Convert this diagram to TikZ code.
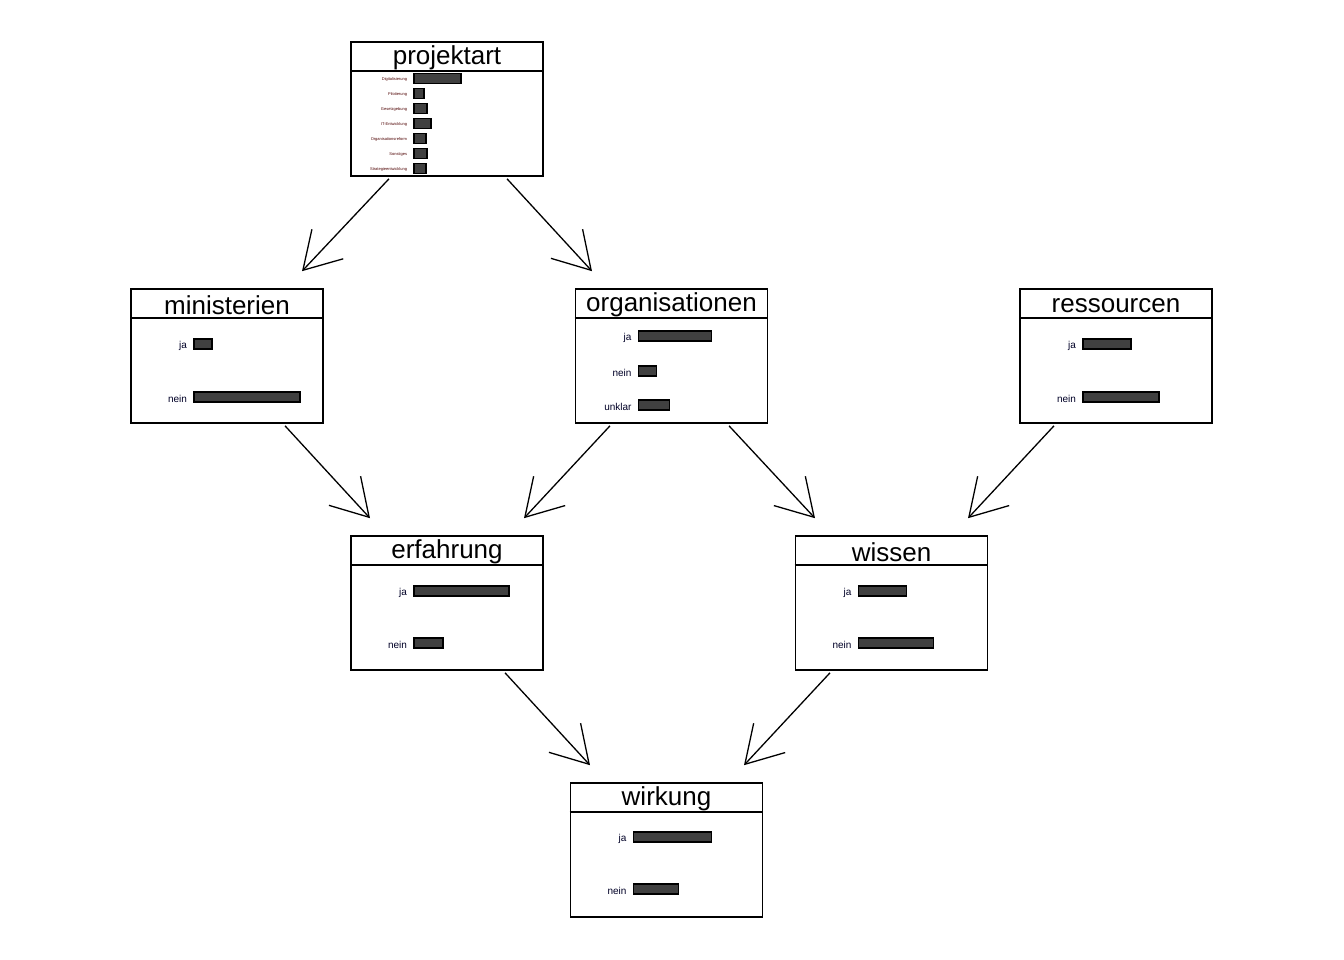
\documentclass[tikz,border=0pt]{standalone}
\usepackage{fontspec}
\setmainfont{Liberation Sans}
\usetikzlibrary{arrows.meta}

\tikzset{
  kasten/.style={draw, line width=1.6pt, minimum width=192pt, minimum height=134pt, inner sep=0pt},
  titel/.style={font=\fontsize{26}{28}\selectfont, inner sep=0pt},
  balken/.style={draw, line width=1.5pt, fill=black!75, minimum height=10pt, inner sep=0pt, anchor=west},
  kat/.style={font=\fontsize{10}{12}\selectfont, text=black!85!blue, inner sep=0pt, anchor=east},
  pfeil/.style={line width=1.3pt, -{Straight Barb[length=36pt,width=43pt]}}
}

\begin{document}
\begin{tikzpicture}[x=1pt,y=-1pt]
  \useasboundingbox (0,0) rectangle (1344,960);
  % Kaesten der Variablen
  \node[kasten] (projektart) at (447,109) {};
  \node[kasten] (ministerien) at (227,356) {};
  \node[kasten] (organisationen) at (671.5,356) {};
  \node[kasten] (ressourcen) at (1116,356) {};
  \node[kasten] (erfahrung) at (447,603) {};
  \node[kasten] (wissen) at (891.5,603) {};
  \node[kasten] (wirkung) at (666.5,850) {};
  % Kopfzeilen mit Titel
  \foreach \k in {projektart,ministerien,organisationen,ressourcen,erfahrung,wissen,wirkung}{
    \draw[line width=1.6pt] ([yshift=-30pt]\k.north west) -- ([yshift=-30pt]\k.north east);
    \node[titel] (\k-titel) at ([yshift=-17pt]\k.north) {\k};
  }
  % Balken der Projektarten
  \foreach \lab/\w [count=\i] in {Digitalisierung/47, Pilotierung/10, Gesetzgebung/13,
      IT-Entwicklung/17, Organisationsreform/12, Sonstiges/13, Strategieentwicklung/12}{
    \node[balken, minimum width=\w pt] (projektart-\i) at ([xshift=63pt,yshift={-(22.5+15*\i)*1pt}]projektart.north west) {};
    \node[kat, font=\fontsize{4}{5}\selectfont, text=black!70!red] at ([xshift=-6pt,yshift=-1pt]projektart-\i.west) {\lab};
  }
  % Balken der uebrigen Variablen
  \foreach \k/\lab/\dy/\w in {ministerien/ja/56/18, ministerien/nein/109/106,
      organisationen/ja/48/73, organisationen/nein/83/18, organisationen/unklar/117/31,
      ressourcen/ja/56/48, ressourcen/nein/109/76,
      erfahrung/ja/56/95, erfahrung/nein/108/29,
      wissen/ja/56/48, wissen/nein/108/75,
      wirkung/ja/55/78, wirkung/nein/107/45}{
    \node[balken, minimum width=\w pt] (\k-\lab) at ([xshift=63pt,yshift=-\dy pt]\k.north west) {};
    \node[kat] at ([xshift=-6pt,yshift=-2pt]\k-\lab.west) {\lab};
  }
  % Pfeile
  \draw[pfeil] ([xshift=-58pt,yshift=-2pt]projektart.south) -- ([xshift=75pt,yshift=17pt]ministerien.north);
  \draw[pfeil] ([xshift=60pt,yshift=-2pt]projektart.south) -- ([xshift=-79.5pt,yshift=17pt]organisationen.north);
  \draw[pfeil] ([xshift=58pt,yshift=-2pt]ministerien.south) -- ([xshift=-77pt,yshift=17pt]erfahrung.north);
  \draw[pfeil] ([xshift=-61.5pt,yshift=-2pt]organisationen.south) -- ([xshift=77pt,yshift=17pt]erfahrung.north);
  \draw[pfeil] ([xshift=57.5pt,yshift=-2pt]organisationen.south) -- ([xshift=-76.5pt,yshift=17pt]wissen.north);
  \draw[pfeil] ([xshift=-62pt,yshift=-2pt]ressourcen.south) -- ([xshift=76.5pt,yshift=17pt]wissen.north);
  \draw[pfeil] ([xshift=58pt,yshift=-2pt]erfahrung.south) -- ([xshift=-76.5pt,yshift=17pt]wirkung.north);
  \draw[pfeil] ([xshift=-61.5pt,yshift=-2pt]wissen.south) -- ([xshift=77.5pt,yshift=17pt]wirkung.north);
\end{tikzpicture}
\end{document}
